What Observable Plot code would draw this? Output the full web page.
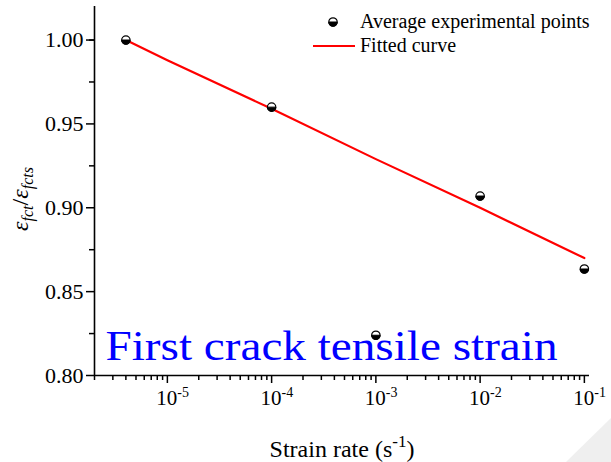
<!DOCTYPE html>
<html>
<head>
<meta charset="utf-8">
<script src="https://cdn.jsdelivr.net/npm/d3@7"></script>
<script src="https://cdn.jsdelivr.net/npm/@observablehq/plot@0.6"></script>
<style>
html,body{margin:0;padding:0;background:#fff;}
#chart{position:relative;width:611px;height:462px;overflow:hidden;}
#chart svg text{font-family:'Liberation Serif','Times New Roman',serif;}
</style>
</head>
<body>
<div id="chart"></div>
<script>
// Experimental points
const rates = [4e-6, 1e-4, 1e-3, 1e-2, 1e-1];
const ratios = [1.000, 0.960, 0.824, 0.907, 0.8635];
// Fitted curve
const fitRates = [4e-6, 1e-5, 1e-4, 1e-3, 1e-2, 1e-1];
const fitRatios = [1.000, 0.988, 0.959, 0.929, 0.900, 0.870];
// Axis ticks
const yTicks = [0.80, 0.85, 0.90, 0.95, 1.00];
const yMinor = [0.825, 0.875, 0.925, 0.975, 1.00];
const xExponents = [-5, -4, -3, -2, -1];

const font = "'Liberation Serif', 'Times New Roman', serif";

const points = rates.map((x, i) => ({x, y: ratios[i]}));
const fit = fitRates.map((x, i) => ({x, y: fitRatios[i]}));
const decades = xExponents.map(e => ({x: Math.pow(10, e), e}));
const xMinor = [];
for (let e = -6; e <= -1; e++) for (let m = 1; m <= 9; m++) {
  const v = m * Math.pow(10, e);
  if (v >= 2e-6 && v <= 0.112 && m !== 1) xMinor.push(v);
}

const halfCircle = {
  draw(ctx, size) {
    const r = Math.sqrt(size / Math.PI);
    ctx.moveTo(r, 0);
    ctx.arc(0, 0, r, 0, Math.PI);
    ctx.closePath();
  }
};

const plot = Plot.plot({
  width: 611,
  height: 462,
  marginLeft: 94,
  marginRight: 22,
  marginTop: 6,
  marginBottom: 87,
  style: {fontFamily: font, background: "white", color: "black"},
  x: {type: "log", domain: [2e-6, 0.112], axis: null},
  y: {domain: [0.80, 1.02], axis: null},
  marks: [
    // Axis lines
    Plot.ruleX([2e-6], {stroke: "black", strokeWidth: 1.6}),
    Plot.ruleY([0.80], {stroke: "black", strokeWidth: 1.6}),
    // Y ticks
    Plot.axisY(yTicks, {tickSize: 8, tickFormat: d3.format(".2f"), fontSize: 22, tickPadding: 3,
      stroke: "black", strokeWidth: 1.5, color: "black", label: null}),
    Plot.axisY(yMinor, {tickSize: 5, tickFormat: () => "", stroke: "black", strokeWidth: 1.5, label: null}),
    // X ticks
    Plot.axisX(decades.map(d => d.x), {tickSize: 8, tickFormat: () => "", stroke: "black", strokeWidth: 1.5, label: null}),
    Plot.axisX(xMinor, {tickSize: 5, tickFormat: () => "", stroke: "black", strokeWidth: 1.5, label: null}),
    Plot.text(decades, {x: "x", text: () => "10", frameAnchor: "bottom", dy: 29, dx: 10,
      textAnchor: "end", fontSize: 21, fill: "black"}),
    Plot.text(decades, {x: "x", text: d => String(d.e), frameAnchor: "bottom", dy: 21, dx: 10,
      textAnchor: "start", fontSize: 14, fill: "black"}),
    // Fitted curve
    Plot.line(fit, {x: "x", y: "y", stroke: "#ff0000", strokeWidth: 2.2}),
    // Points
    Plot.dot(points, {x: "x", y: "y", r: 4.2, fill: "white", stroke: "black", strokeWidth: 1.2}),
    Plot.dot(points, {x: "x", y: "y", r: 4.2, symbol: halfCircle, fill: "black", stroke: "black", strokeWidth: 1}),
    // Big annotation
    Plot.text(["First crack tensile strain"], {frameAnchor: "bottom-left", dx: 11, dy: -16,
      textAnchor: "start", lineAnchor: "bottom", fontSize: 43, fill: "#0000ff",
      className: "bigtitle"})
  ]
});

const svg = d3.select(plot);
svg.attr("font-family", font);

// stretch the annotation horizontally as in the reference
svg.selectAll(".bigtitle text").attr("textLength", 452).attr("lengthAdjust", "spacingAndGlyphs");

// Legend (inside the svg)
const lg = svg.append("g").attr("text-anchor", "start");
lg.append("circle").attr("cx", 333).attr("cy", 22).attr("r", 4.2).attr("fill", "white").attr("stroke", "black").attr("stroke-width", 1.2);
lg.append("path").attr("d", d3.symbol(halfCircle, Math.PI * 4.2 * 4.2)()).attr("transform", "translate(333,22)").attr("fill", "black").attr("stroke", "black");
lg.append("text").attr("x", 360).attr("y", 28).attr("font-size", 20).attr("fill", "black").text("Average experimental points");
lg.append("line").attr("x1", 313).attr("x2", 355).attr("y1", 46).attr("y2", 46).attr("stroke", "#ff0000").attr("stroke-width", 2.2);
lg.append("text").attr("x", 360).attr("y", 52).attr("font-size", 20).attr("fill", "black").text("Fitted curve");

// X label
const xl = svg.append("text").attr("x", 342).attr("y", 457).attr("text-anchor", "middle").attr("font-size", 24).attr("fill", "black");
xl.append("tspan").text("Strain rate (s");
xl.append("tspan").attr("dy", -10).attr("font-size", 17).text("-1");
xl.append("tspan").attr("dy", 10).text(")");

// Y label
const yl = svg.append("text").attr("transform", "translate(28,199) rotate(-90)").attr("text-anchor", "middle").attr("font-size", 24).attr("fill", "black");
yl.append("tspan").attr("font-style", "italic").text("ε");
yl.append("tspan").attr("font-style", "italic").attr("font-size", 16).attr("dy", 5).text("fct");
yl.append("tspan").attr("dy", -5).text("/");
yl.append("tspan").attr("font-style", "italic").text("ε");
yl.append("tspan").attr("font-style", "italic").attr("font-size", 16).attr("dy", 5).text("fcts");

// faint slide corner
svg.append("path").attr("d", "M611,418 L611,462 L566,462 Z").attr("fill", "#efefef");

document.getElementById("chart").appendChild(plot);
</script>
</body>
</html>
